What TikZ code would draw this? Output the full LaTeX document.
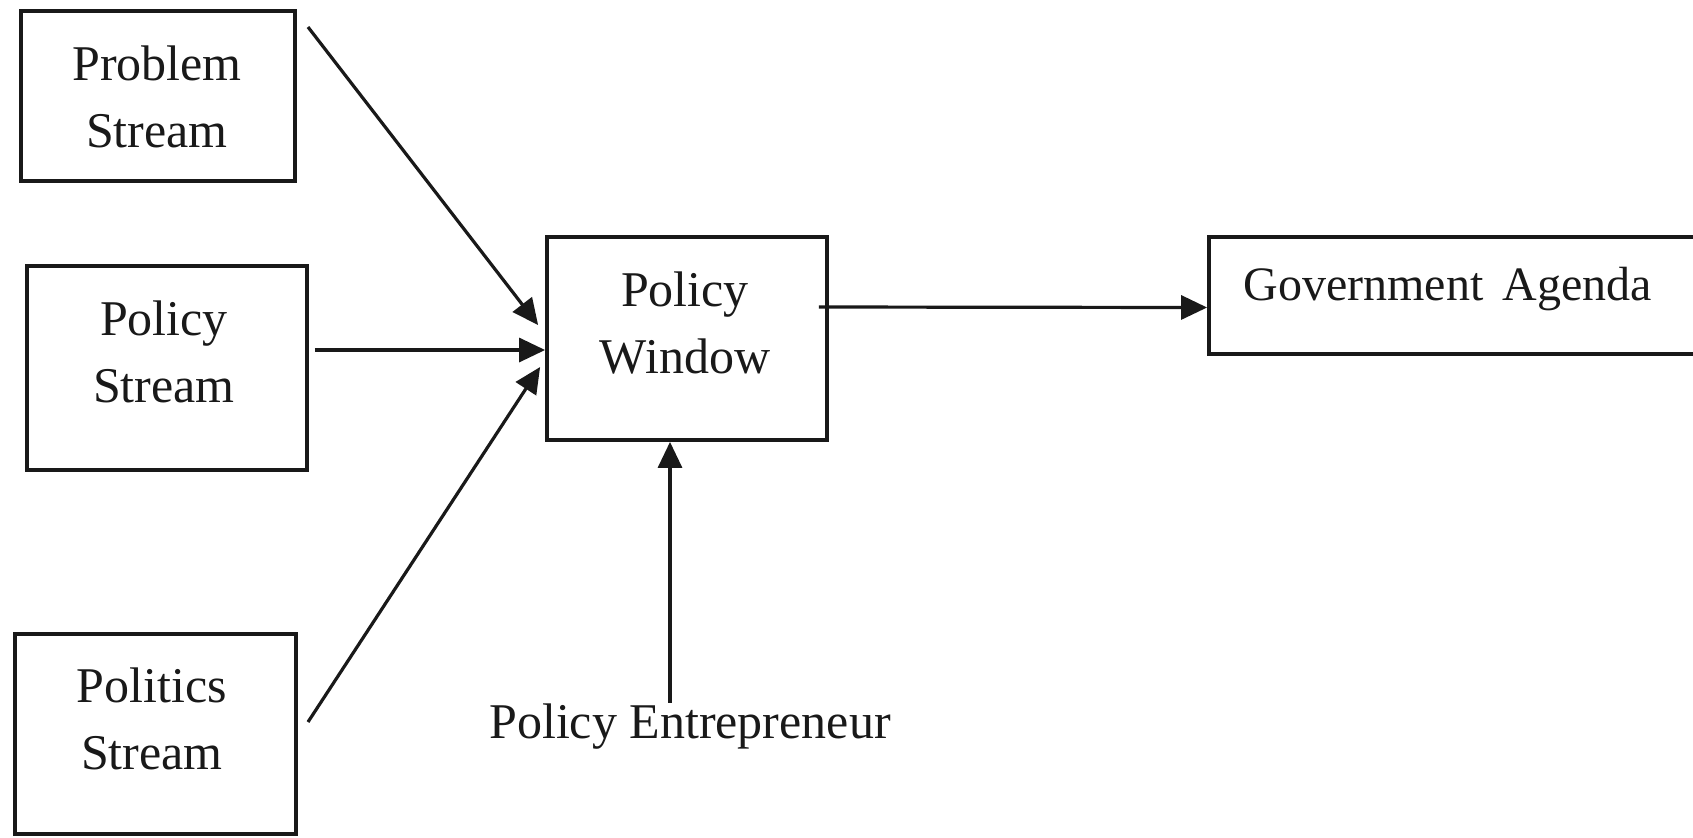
\documentclass[tikz,border=0pt]{standalone}
\usepackage{fontspec}
\setmainfont{Liberation Serif}
\usetikzlibrary{arrows.meta}
\definecolor{ink}{gray}{0.1}
\begin{document}
\begin{tikzpicture}[x=0.5pt,y=-0.5pt,
  box/.style={draw=ink,line width=1.9pt,rectangle,inner sep=0pt},
  lbl/.style={text=ink,inner sep=0pt,align=center,font=\fontsize{25}{33.5}\selectfont},
  arr/.style={draw=ink,line width=1.6pt,-{Triangle[length=13pt,width=12pt]}}]
\useasboundingbox (0,0) rectangle (1693,837);
% boxes
\node[box,minimum width=137pt,minimum height=85pt] (pb) at (158,96) {};
\node[box,minimum width=140pt,minimum height=102pt] (ps) at (167,368) {};
\node[box,minimum width=140.5pt,minimum height=100pt] (pl) at (155.5,734) {};
\node[box,minimum width=140pt,minimum height=101.5pt] (pw) at (687,338.5) {};
\node[box,minimum width=245.5pt,minimum height=58.5pt] (ga) at (1454.5,295.5) {};
% texts
\node[lbl] (pbt) at (157,97) {Problem\\Stream};
\node[lbl] (pst) at (164,352) {Policy\\Stream};
\node[lbl] (plt) at (152,719) {Politics\\Stream};
\node[lbl] (pwt) at (685,323) {Policy\\Window};
\node[lbl,anchor=base west,font=\fontsize{24}{30}\selectfont] (gat) at (1243,300) {Government\hspace{0.15em} Agenda};
\node[lbl,anchor=base] (pe) at (690,738) {Policy Entrepreneur};
% free ends
\coordinate (pbs) at (308,27);
\coordinate (pls) at (308,722);
% connectors
\draw[arr] (pbs) -- ([xshift=-3.5pt,yshift=6.75pt]pw.west);
\draw[arr] ([xshift=3pt,yshift=9pt]ps.east) -- ([yshift=-5.75pt]pw.west);
\draw[arr] (pls) -- ([xshift=-2.5pt,yshift=-14.25pt]pw.west);
\draw[arr] ([xshift=-5pt,yshift=15.75pt]pw.east) -- ([yshift=-6pt]ga.west);
\draw[arr] ([xshift=-10pt]pe.north) -- ([xshift=-8.5pt]pw.south);
\end{tikzpicture}
\end{document}
